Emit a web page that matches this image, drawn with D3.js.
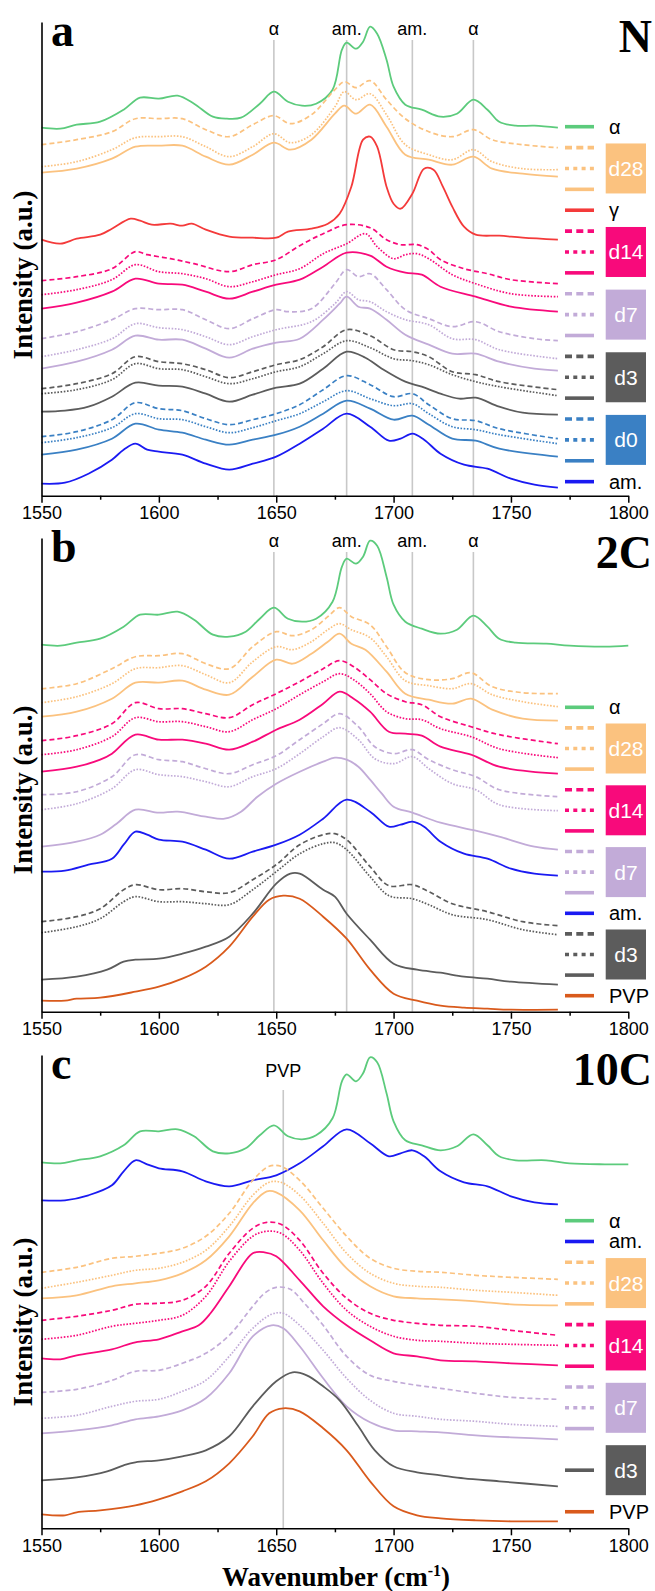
<!DOCTYPE html>
<html>
<head>
<meta charset="utf-8">
<script src="https://cdn.jsdelivr.net/npm/d3@7/dist/d3.min.js"></script>
<style>
body { margin: 0; background: #fff; }
svg text { font-family: "Liberation Sans", Arial, sans-serif; }
.serif { font-family: "Liberation Serif", "Times New Roman", serif; font-weight: bold; }
</style>
</head>
<body>
<div id="chart"></div>
<script>
// x ticks
var xTicksMajor = [1550, 1600, 1650, 1700, 1750, 1800];
var xTicksMinor = [1575, 1625, 1675, 1725, 1775];

// reference lines (wavenumber) and their labels
var marksAB = [1649, 1680, 1708, 1734];
var marksABText = ["α", "am.", "am.", "α"];
var marksC = [1653];
var marksCText = ["PVP"];

// ---- panel a (N) : [wavenumber, intensity a.u.]
var a_alpha = [[1550,368],[1558,367],[1565,371],[1575,374],[1585,386],[1592,398],[1600,397],[1608,400],[1615,392],[1623,379],[1629,377],[1635,378],[1643,392],[1649,404],[1655,394],[1661,390],[1667,392],[1674,406],[1678,446],[1680,453],[1684,447],[1687,454],[1690,469],[1693,462],[1697,436],[1700,409],[1705,391],[1712,386],[1720,379],[1727,382],[1734,396],[1740,386],[1745,374],[1752,370],[1760,370],[1770,368]];
var a_d28_dash = [[1550,351],[1565,356],[1580,364],[1590,377],[1600,377],[1610,377],[1620,366],[1630,359],[1640,371],[1649,380],[1656,372],[1665,381],[1675,406],[1679,414],[1684,408],[1690,415],[1697,396],[1705,377],[1715,364],[1725,359],[1734,366],[1742,356],[1755,351],[1770,348]];
var a_d28_dot = [[1550,329],[1565,334],[1580,346],[1590,358],[1600,359],[1610,359],[1620,349],[1630,339],[1640,349],[1649,362],[1656,353],[1665,361],[1675,389],[1679,404],[1684,396],[1690,402],[1697,381],[1705,351],[1715,341],[1725,336],[1734,346],[1742,334],[1755,327],[1770,326]];
var a_d28 = [[1550,323],[1565,327],[1580,337],[1590,349],[1600,350],[1610,350],[1620,339],[1630,331],[1640,341],[1649,353],[1656,346],[1665,356],[1675,382],[1679,390],[1684,382],[1690,391],[1697,369],[1705,341],[1715,336],[1725,331],[1734,339],[1742,327],[1755,322],[1770,319]];
var a_gamma = [[1550,256],[1558,252],[1565,257],[1575,261],[1580,267],[1588,277],[1592,275],[1597,271],[1605,272],[1610,270],[1614,272],[1620,266],[1630,259],[1640,258],[1650,258],[1655,264],[1665,267],[1672,272],[1677,282],[1682,309],[1687,356],[1690,359],[1693,349],[1697,309],[1700,292],[1703,287],[1708,302],[1713,327],[1717,326],[1721,309],[1725,289],[1730,269],[1735,261],[1745,260],[1755,258],[1770,256]];
var a_d14_dash = [[1550,215],[1565,219],[1580,227],[1590,244],[1595,241],[1605,237],[1615,232],[1630,224],[1640,231],[1650,236],[1660,250],[1670,262],[1680,271],[1690,268],[1697,256],[1703,251],[1710,251],[1715,246],[1720,236],[1730,227],[1740,222],[1750,216],[1770,212]];
var a_d14_dot = [[1550,201],[1565,206],[1580,216],[1590,231],[1600,224],[1610,222],[1620,217],[1630,209],[1640,214],[1650,221],[1660,227],[1670,242],[1680,252],[1688,262],[1693,249],[1700,237],[1705,241],[1710,242],[1715,237],[1725,221],[1735,212],[1750,202],[1770,199]];
var a_d14 = [[1550,187],[1565,193],[1580,204],[1590,217],[1600,212],[1610,211],[1620,204],[1630,197],[1640,204],[1650,211],[1660,216],[1670,229],[1680,243],[1690,240],[1697,229],[1705,223],[1712,221],[1720,209],[1735,199],[1750,189],[1770,184]];
var a_d7_dash = [[1550,157],[1565,164],[1580,176],[1590,187],[1600,186],[1610,186],[1620,176],[1630,167],[1640,177],[1650,186],[1655,184],[1665,187],[1675,212],[1680,226],[1685,219],[1690,222],[1697,206],[1705,186],[1715,177],[1725,169],[1735,174],[1745,164],[1760,157],[1770,155]];
var a_d7_dot = [[1550,139],[1565,146],[1580,157],[1590,172],[1600,168],[1610,166],[1620,159],[1630,151],[1640,159],[1650,166],[1665,174],[1675,192],[1680,204],[1685,196],[1690,194],[1697,184],[1705,176],[1715,171],[1725,157],[1735,156],[1745,146],[1770,137]];
var a_d7 = [[1550,127],[1565,134],[1580,146],[1590,160],[1600,156],[1610,156],[1620,147],[1630,138],[1640,147],[1650,153],[1660,157],[1670,176],[1677,192],[1680,199],[1685,189],[1690,187],[1697,176],[1705,161],[1715,151],[1725,142],[1735,142],[1745,134],[1760,127],[1770,125]];
var a_d3_dash = [[1550,107],[1565,112],[1580,122],[1590,139],[1600,134],[1610,132],[1620,126],[1630,118],[1640,124],[1650,131],[1660,136],[1670,149],[1680,166],[1690,160],[1700,146],[1708,144],[1715,139],[1725,124],[1735,121],[1745,114],[1770,106]];
var a_d3_dot = [[1550,102],[1565,106],[1580,116],[1590,132],[1600,127],[1610,126],[1620,119],[1630,112],[1640,117],[1650,124],[1660,129],[1670,142],[1680,155],[1690,148],[1700,137],[1708,135],[1715,131],[1725,121],[1735,114],[1745,109],[1770,100]];
var a_d3 = [[1550,84],[1560,85],[1570,89],[1580,99],[1590,113],[1600,110],[1610,109],[1620,102],[1630,94],[1640,101],[1650,108],[1660,112],[1670,127],[1680,144],[1688,138],[1695,127],[1705,114],[1712,109],[1720,102],[1728,97],[1735,98],[1745,89],[1755,83],[1770,81]];
var a_d0_dash = [[1550,59],[1565,64],[1580,76],[1590,93],[1600,87],[1610,85],[1620,77],[1630,71],[1640,76],[1650,82],[1660,91],[1670,106],[1680,120],[1690,111],[1700,99],[1708,102],[1715,91],[1725,77],[1735,75],[1745,67],[1770,57]];
var a_d0_dot = [[1550,53],[1565,58],[1580,68],[1590,82],[1600,77],[1610,76],[1620,69],[1630,63],[1640,68],[1650,75],[1660,82],[1670,94],[1680,105],[1690,97],[1700,90],[1708,92],[1715,82],[1725,69],[1735,66],[1745,61],[1770,52]];
var a_d0 = [[1550,41],[1565,46],[1580,57],[1590,72],[1600,66],[1610,63],[1620,56],[1630,51],[1640,56],[1650,61],[1660,69],[1670,82],[1680,95],[1690,87],[1700,76],[1708,80],[1715,71],[1725,57],[1735,55],[1745,47],[1770,39]];
var a_am = [[1550,12],[1560,13],[1570,22],[1580,36],[1585,46],[1590,52],[1595,46],[1600,44],[1610,41],[1620,32],[1630,26],[1640,32],[1650,39],[1660,52],[1670,67],[1680,82],[1690,69],[1698,55],[1703,57],[1708,62],[1713,56],[1720,42],[1730,31],[1740,27],[1750,17],[1760,11],[1770,8]];

// ---- panel b (2C)
var b_alpha = [[1550,367],[1558,366],[1565,369],[1575,373],[1585,385],[1592,397],[1600,397],[1608,400],[1615,392],[1623,377],[1630,375],[1637,380],[1643,393],[1649,404],[1655,393],[1661,390],[1667,393],[1674,410],[1678,445],[1680,453],[1684,448],[1687,455],[1690,471],[1693,466],[1697,435],[1700,407],[1705,390],[1712,383],[1720,378],[1727,382],[1734,396],[1740,385],[1745,373],[1752,369],[1765,368],[1775,366],[1790,365],[1800,366]];
var b_d28_dash = [[1550,323],[1565,328],[1580,343],[1590,355],[1600,356],[1610,358],[1620,348],[1630,343],[1640,365],[1650,380],[1657,376],[1665,382],[1672,395],[1677,404],[1682,395],[1690,387],[1697,365],[1705,339],[1715,332],[1725,333],[1733,339],[1742,325],[1755,319],[1770,318]];
var b_d28_dot = [[1550,309],[1565,315],[1580,328],[1590,343],[1600,344],[1610,346],[1620,337],[1630,329],[1640,350],[1650,365],[1657,362],[1665,370],[1672,382],[1677,388],[1682,382],[1690,374],[1697,355],[1705,331],[1715,326],[1725,323],[1733,328],[1742,317],[1755,310],[1770,305]];
var b_d28 = [[1550,295],[1565,300],[1580,313],[1590,329],[1600,329],[1610,331],[1620,322],[1630,317],[1640,335],[1650,352],[1657,348],[1665,358],[1672,370],[1677,378],[1682,368],[1688,362],[1697,340],[1705,318],[1715,312],[1725,308],[1733,313],[1742,302],[1755,293],[1770,291]];
var b_d14_dash = [[1550,271],[1565,276],[1580,288],[1590,309],[1600,303],[1610,303],[1620,298],[1630,294],[1640,307],[1650,318],[1660,330],[1670,343],[1677,351],[1683,345],[1690,332],[1697,318],[1705,310],[1712,307],[1720,295],[1733,285],[1745,277],[1770,268]];
var b_d14_dot = [[1550,257],[1565,262],[1580,275],[1590,294],[1600,290],[1610,290],[1620,285],[1630,280],[1640,292],[1650,303],[1660,317],[1670,330],[1677,338],[1683,332],[1690,318],[1697,300],[1705,293],[1712,292],[1720,283],[1733,275],[1745,263],[1770,254]];
var b_d14 = [[1550,240],[1565,245],[1575,252],[1580,258],[1590,277],[1600,272],[1610,272],[1620,268],[1630,262],[1640,270],[1650,282],[1660,292],[1670,308],[1677,320],[1683,313],[1690,300],[1698,280],[1705,278],[1712,276],[1720,265],[1733,257],[1745,245],[1770,238]];
var b_d7_dash = [[1550,217],[1565,220],[1580,235],[1590,257],[1600,252],[1610,250],[1620,243],[1630,238],[1640,247],[1650,256],[1660,272],[1670,288],[1677,298],[1685,285],[1692,265],[1700,258],[1708,262],[1715,252],[1725,242],[1735,235],[1745,222],[1770,215]];
var b_d7_dot = [[1550,202],[1565,208],[1580,223],[1590,242],[1600,237],[1610,235],[1620,230],[1630,225],[1640,235],[1650,243],[1660,258],[1670,275],[1677,284],[1685,272],[1692,253],[1700,248],[1708,255],[1715,243],[1725,228],[1735,222],[1745,207],[1770,201]];
var b_d7 = [[1550,165],[1565,170],[1575,177],[1582,188],[1590,202],[1600,199],[1608,200],[1620,195],[1628,193],[1635,200],[1642,215],[1650,228],[1660,240],[1670,250],[1675,254],[1680,252],[1685,245],[1690,232],[1695,218],[1700,205],[1708,199],[1720,189],[1735,181],[1745,175],[1760,165],[1770,162]];
var b_am = [[1550,140],[1560,141],[1570,147],[1580,153],[1585,167],[1590,180],[1595,177],[1600,172],[1610,170],[1620,162],[1630,153],[1640,160],[1650,167],[1660,177],[1670,193],[1680,212],[1690,200],[1698,185],[1703,187],[1708,190],[1713,185],[1720,170],[1730,158],[1740,153],[1750,143],[1760,138],[1770,136]];
var b_d3_dash = [[1550,90],[1565,95],[1575,103],[1585,122],[1590,127],[1600,122],[1610,123],[1620,120],[1630,119],[1640,132],[1650,147],[1660,167],[1670,177],[1675,178],[1680,172],[1690,145],[1698,126],[1708,127],[1715,120],[1725,108],[1740,100],[1755,90],[1770,86]];
var b_d3_dot = [[1550,79],[1565,85],[1575,93],[1585,110],[1590,115],[1600,110],[1610,110],[1620,108],[1630,107],[1640,122],[1650,140],[1660,158],[1670,168],[1675,169],[1680,162],[1690,135],[1698,116],[1708,113],[1715,107],[1725,97],[1740,92],[1755,82],[1770,77]];
var b_d3 = [[1550,32],[1565,35],[1578,42],[1585,50],[1590,52],[1600,53],[1610,58],[1620,65],[1630,75],[1640,98],[1650,128],[1656,138],[1660,138],[1670,122],[1675,115],[1680,98],[1690,72],[1700,48],[1710,42],[1720,39],[1730,35],[1740,33],[1750,30],[1770,27]];
var b_pvp = [[1550,11],[1560,11],[1565,13],[1575,14],[1590,20],[1600,25],[1610,33],[1620,45],[1630,65],[1640,95],[1647,112],[1653,116],[1660,113],[1670,95],[1680,73],[1690,42],[1700,18],[1710,11],[1720,6],[1730,4],[1740,3],[1750,2],[1770,2]];

// ---- panel c (10C)
var c_alpha = [[1550,366],[1558,365],[1565,368],[1575,372],[1585,383],[1592,397],[1600,397],[1608,399],[1615,392],[1623,377],[1630,375],[1637,380],[1643,393],[1649,403],[1655,392],[1661,389],[1667,393],[1674,410],[1678,447],[1680,454],[1684,447],[1687,455],[1690,471],[1693,466],[1697,435],[1700,407],[1705,388],[1712,383],[1720,378],[1727,382],[1734,394],[1740,383],[1745,372],[1752,368],[1765,368],[1775,365],[1790,364],[1800,364]];
var c_am = [[1550,328],[1560,328],[1570,333],[1580,343],[1585,357],[1590,368],[1595,364],[1600,360],[1610,357],[1620,347],[1630,342],[1640,348],[1650,353],[1660,365],[1670,382],[1680,399],[1690,385],[1698,372],[1703,375],[1708,378],[1713,372],[1720,357],[1730,346],[1740,342],[1750,332],[1760,326],[1770,324]];
var c_d28_dash = [[1550,256],[1565,261],[1580,270],[1590,272],[1600,275],[1610,280],[1620,292],[1630,315],[1640,348],[1647,362],[1652,362],[1660,348],[1670,320],[1680,292],[1690,270],[1700,260],[1710,257],[1720,256],[1735,253],[1750,251],[1770,249]];
var c_d28_dot = [[1550,240],[1565,246],[1580,253],[1590,258],[1600,260],[1610,266],[1620,278],[1630,302],[1640,333],[1647,346],[1652,346],[1660,333],[1670,305],[1680,275],[1690,255],[1700,245],[1710,242],[1720,241],[1735,238],[1750,236],[1770,233]];
var c_d28 = [[1550,230],[1565,233],[1580,242],[1590,245],[1600,248],[1610,255],[1620,268],[1630,292],[1640,325],[1646,337],[1650,336],[1660,318],[1670,288],[1680,260],[1690,242],[1700,232],[1710,230],[1720,229],[1735,227],[1750,224],[1770,223]];
var c_d14_dash = [[1550,208],[1565,212],[1580,218],[1590,224],[1600,225],[1610,228],[1620,242],[1630,275],[1640,300],[1646,306],[1652,304],[1660,288],[1670,255],[1680,230],[1690,215],[1700,208],[1710,205],[1720,203],[1735,202],[1750,198],[1770,193]];
var c_d14_dot = [[1550,189],[1565,193],[1580,202],[1590,205],[1600,208],[1610,213],[1620,232],[1630,267],[1640,292],[1646,297],[1652,295],[1660,278],[1670,245],[1680,218],[1690,202],[1700,192],[1710,188],[1720,187],[1735,185],[1750,184],[1770,183]];
var c_d14 = [[1550,170],[1558,169],[1565,173],[1580,179],[1590,186],[1600,189],[1610,197],[1617,203],[1622,215],[1630,242],[1640,275],[1645,276],[1650,272],[1660,248],[1670,222],[1680,203],[1690,188],[1700,175],[1710,172],[1720,168],[1735,167],[1750,165],[1770,163]];
var c_d7_dash = [[1550,136],[1565,139],[1580,148],[1590,157],[1600,158],[1610,165],[1620,175],[1630,193],[1640,222],[1645,235],[1650,241],[1656,239],[1662,225],[1670,203],[1680,172],[1690,153],[1700,147],[1710,143],[1720,140],[1735,135],[1750,131],[1770,129]];
var c_d7_dot = [[1550,110],[1565,113],[1580,122],[1590,127],[1600,129],[1610,137],[1620,148],[1630,172],[1640,200],[1648,214],[1653,215],[1660,203],[1670,178],[1680,150],[1690,128],[1700,115],[1710,112],[1720,109],[1735,107],[1750,104],[1770,102]];
var c_d7 = [[1550,95],[1565,98],[1580,103],[1590,109],[1600,112],[1610,118],[1620,130],[1630,155],[1640,192],[1648,203],[1653,200],[1660,182],[1670,150],[1680,122],[1690,106],[1700,98],[1710,97],[1720,96],[1735,93],[1750,91],[1770,89]];
var c_d3 = [[1550,48],[1565,51],[1578,57],[1585,63],[1590,66],[1600,68],[1610,72],[1620,78],[1630,92],[1640,122],[1650,147],[1657,156],[1663,153],[1670,142],[1677,128],[1685,102],[1692,78],[1700,62],[1710,56],[1720,53],[1730,50],[1745,47],[1770,42]];
var c_pvp = [[1550,14],[1560,13],[1565,16],[1575,18],[1590,23],[1600,29],[1610,37],[1620,47],[1630,65],[1640,92],[1647,115],[1653,120],[1660,117],[1670,100],[1680,78],[1690,47],[1700,22],[1710,13],[1720,10],[1735,8],[1750,7],[1770,7]];

var colors = {
    alpha: "#5ccb7c", d28: "#fbc27f", gamma: "#f43a3a", d14: "#f80a7b",
    d7: "#c2abd8", d3: "#5c5c5c", d0: "#3a80c4", am: "#1a1af2", PVP: "#d95a1c"
};
var boxLabels = { d28: "d28", d14: "d14", d7: "d7", d3: "d3", d0: "d0" };
var lineLabels = { alpha: "α", gamma: "γ", am: "am.", PVP: "PVP" };

var panels = [
    {
        letter: "a", name: "N", top: 22, axisY: 495.7, markTop: 40, markLabelY: 29,
        marks: marksAB, markText: marksABText, ylabelY: 275,
        legendTop: 126.7, legendStep: 20.88,
        series: [
            ["alpha", "solid", a_alpha], ["d28", "dash", a_d28_dash], ["d28", "dot", a_d28_dot], ["d28", "solid", a_d28],
            ["gamma", "solid", a_gamma], ["d14", "dash", a_d14_dash], ["d14", "dot", a_d14_dot], ["d14", "solid", a_d14],
            ["d7", "dash", a_d7_dash], ["d7", "dot", a_d7_dot], ["d7", "solid", a_d7],
            ["d3", "dash", a_d3_dash], ["d3", "dot", a_d3_dot], ["d3", "solid", a_d3],
            ["d0", "dash", a_d0_dash], ["d0", "dot", a_d0_dot], ["d0", "solid", a_d0], ["am", "solid", a_am]
        ],
        legend: [["alpha", ["solid"]], ["d28", ["dash", "dot", "solid"]], ["gamma", ["solid"]], ["d14", ["dash", "dot", "solid"]],
                 ["d7", ["dash", "dot", "solid"]], ["d3", ["dash", "dot", "solid"]], ["d0", ["dash", "dot", "solid"]], ["am", ["solid"]]]
    },
    {
        letter: "b", name: "2C", top: 538, axisY: 1011.7, markTop: 552, markLabelY: 541,
        marks: marksAB, markText: marksABText, ylabelY: 790,
        legendTop: 707.3, legendStep: 20.6,
        series: [
            ["alpha", "solid", b_alpha], ["d28", "dash", b_d28_dash], ["d28", "dot", b_d28_dot], ["d28", "solid", b_d28],
            ["d14", "dash", b_d14_dash], ["d14", "dot", b_d14_dot], ["d14", "solid", b_d14],
            ["d7", "dash", b_d7_dash], ["d7", "dot", b_d7_dot], ["d7", "solid", b_d7], ["am", "solid", b_am],
            ["d3", "dash", b_d3_dash], ["d3", "dot", b_d3_dot], ["d3", "solid", b_d3], ["PVP", "solid", b_pvp]
        ],
        legend: [["alpha", ["solid"]], ["d28", ["dash", "dot", "solid"]], ["d14", ["dash", "dot", "solid"]],
                 ["d7", ["dash", "dot", "solid"]], ["am", ["solid"]], ["d3", ["dash", "dot", "solid"]], ["PVP", ["solid"]]]
    },
    {
        letter: "c", name: "10C", top: 1055, axisY: 1528.3, markTop: 1090, markLabelY: 1071,
        marks: marksC, markText: marksCText, ylabelY: 1322,
        legendTop: 1220.7, legendStep: 20.79,
        series: [
            ["alpha", "solid", c_alpha], ["am", "solid", c_am], ["d28", "dash", c_d28_dash], ["d28", "dot", c_d28_dot], ["d28", "solid", c_d28],
            ["d14", "dash", c_d14_dash], ["d14", "dot", c_d14_dot], ["d14", "solid", c_d14],
            ["d7", "dash", c_d7_dash], ["d7", "dot", c_d7_dot], ["d7", "solid", c_d7],
            ["d3", "solid", c_d3], ["PVP", "solid", c_pvp]
        ],
        legend: [["alpha", ["solid"]], ["am", ["solid"]], ["d28", ["dash", "dot", "solid"]], ["d14", ["dash", "dot", "solid"]],
                 ["d7", ["dash", "dot", "solid"]], ["d3", [null, "solid", null]], ["PVP", ["solid"]]]
    }
];

var svgWidth = 655, svgHeight = 1591;
var svg = d3.select("#chart").append("svg")
    .attr("width", svgWidth)
    .attr("height", svgHeight);

var x = d3.scaleLinear().domain([1550, 1800]).range([41.5, 628.3]);

function dashFor(style) {
    if (style === "dash") return "5,3";
    if (style === "dot") return "1.6,1.6";
    return null;
}

function drawPanel(p) {
    var y = d3.scaleLinear().domain([0, p.axisY - p.top]).range([p.axisY, p.top]);
    var g = svg.append("g");

    // grey reference lines
    g.selectAll(".mark")
        .data(p.marks)
        .enter().append("line")
        .attr("x1", d => x(d)).attr("x2", d => x(d))
        .attr("y1", p.markTop).attr("y2", p.axisY)
        .attr("stroke", "#c8c8c8")
        .attr("stroke-width", 1.6);

    g.selectAll(".marklabel")
        .data(p.marks)
        .enter().append("text")
        .attr("x", d => x(d))
        .attr("y", p.markLabelY)
        .attr("text-anchor", "middle")
        .attr("dominant-baseline", "central")
        .style("font-size", "18px")
        .text((d, i) => p.markText[i]);

    var line = d3.line()
        .x(d => x(d[0]))
        .y(d => y(d[1]))
        .curve(d3.curveCatmullRom.alpha(0.5));

    g.selectAll(".spec")
        .data(p.series)
        .enter().append("path")
        .attr("d", d => line(d[2]))
        .attr("fill", "none")
        .attr("stroke", d => colors[d[0]])
        .attr("stroke-width", d => d[1] === "solid" ? 1.8 : 1.7)
        .attr("stroke-dasharray", d => dashFor(d[1]));

    // axes
    g.append("g")
        .attr("transform", "translate(0," + p.axisY + ")")
        .call(d3.axisBottom(x).tickValues(xTicksMinor).tickSize(4).tickSizeOuter(0).tickFormat(""))
        .call(a => a.select(".domain").remove())
        .selectAll("line").attr("stroke-width", 1.5);

    var xa = g.append("g")
        .attr("transform", "translate(0," + p.axisY + ")")
        .call(d3.axisBottom(x).tickValues(xTicksMajor).tickSize(7).tickSizeOuter(0).tickPadding(4).tickFormat(d3.format("d")));
    xa.select(".domain").attr("stroke-width", 1.6);
    xa.selectAll("line").attr("stroke-width", 1.5);
    xa.selectAll("text").style("font-size", "18px").style("font-family", "'Liberation Sans', Arial, sans-serif");

    var ya = g.append("g")
        .attr("transform", "translate(" + x(1550) + ",0)")
        .call(d3.axisLeft(y).tickValues([]).tickSizeOuter(0));
    ya.select(".domain").attr("stroke-width", 1.6);

    // panel letter and sample name
    g.append("text").attr("class", "serif")
        .attr("x", 51).attr("y", p.top + 24)
        .style("font-size", "46px")
        .text(p.letter);
    g.append("text").attr("class", "serif")
        .attr("x", 652).attr("y", p.top + 30)
        .attr("text-anchor", "end")
        .style("font-size", "46px")
        .text(p.name);

    // y label
    g.append("text").attr("class", "serif")
        .attr("transform", "translate(23," + p.ylabelY + ") rotate(-90)")
        .attr("text-anchor", "middle")
        .attr("dominant-baseline", "central")
        .style("font-size", "27px")
        .text("Intensity (a.u.)");

    // legend
    var row = 0;
    p.legend.forEach(function (item) {
        var key = item[0], styles = item[1];
        var first = row;
        styles.forEach(function (st) {
            var ly = p.legendTop + row * p.legendStep;
            if (st) {
                g.append("line")
                    .attr("x1", 565).attr("x2", 594)
                    .attr("y1", ly).attr("y2", ly)
                    .attr("stroke", colors[key])
                    .attr("stroke-width", 3.6)
                    .attr("stroke-dasharray", st === "dash" ? "7,4.3" : st === "dot" ? "4,4.3" : null);
            }
            row++;
        });
        if (styles.length === 1) {
            g.append("text")
                .attr("x", 609).attr("y", p.legendTop + first * p.legendStep)
                .attr("dominant-baseline", "central")
                .style("font-size", "20px")
                .text(lineLabels[key]);
        } else {
            var cy = p.legendTop + (first + 1) * p.legendStep;
            g.append("rect")
                .attr("x", 605.7).attr("y", cy - 25)
                .attr("width", 40.3).attr("height", 50)
                .attr("fill", colors[key]);
            g.append("text")
                .attr("x", 626).attr("y", cy)
                .attr("text-anchor", "middle")
                .attr("dominant-baseline", "central")
                .attr("fill", "#fff")
                .style("font-size", "21px")
                .text(boxLabels[key]);
        }
    });
}

panels.forEach(drawPanel);

// x title
var xt = svg.append("text").attr("class", "serif")
    .attr("x", 336).attr("y", 1586)
    .attr("text-anchor", "middle")
    .style("font-size", "27px");
xt.append("tspan").text("Wavenumber (cm");
xt.append("tspan").attr("dy", -10).style("font-size", "16px").text("-1");
xt.append("tspan").attr("dy", 10).text(")");
</script>
</body>
</html>
